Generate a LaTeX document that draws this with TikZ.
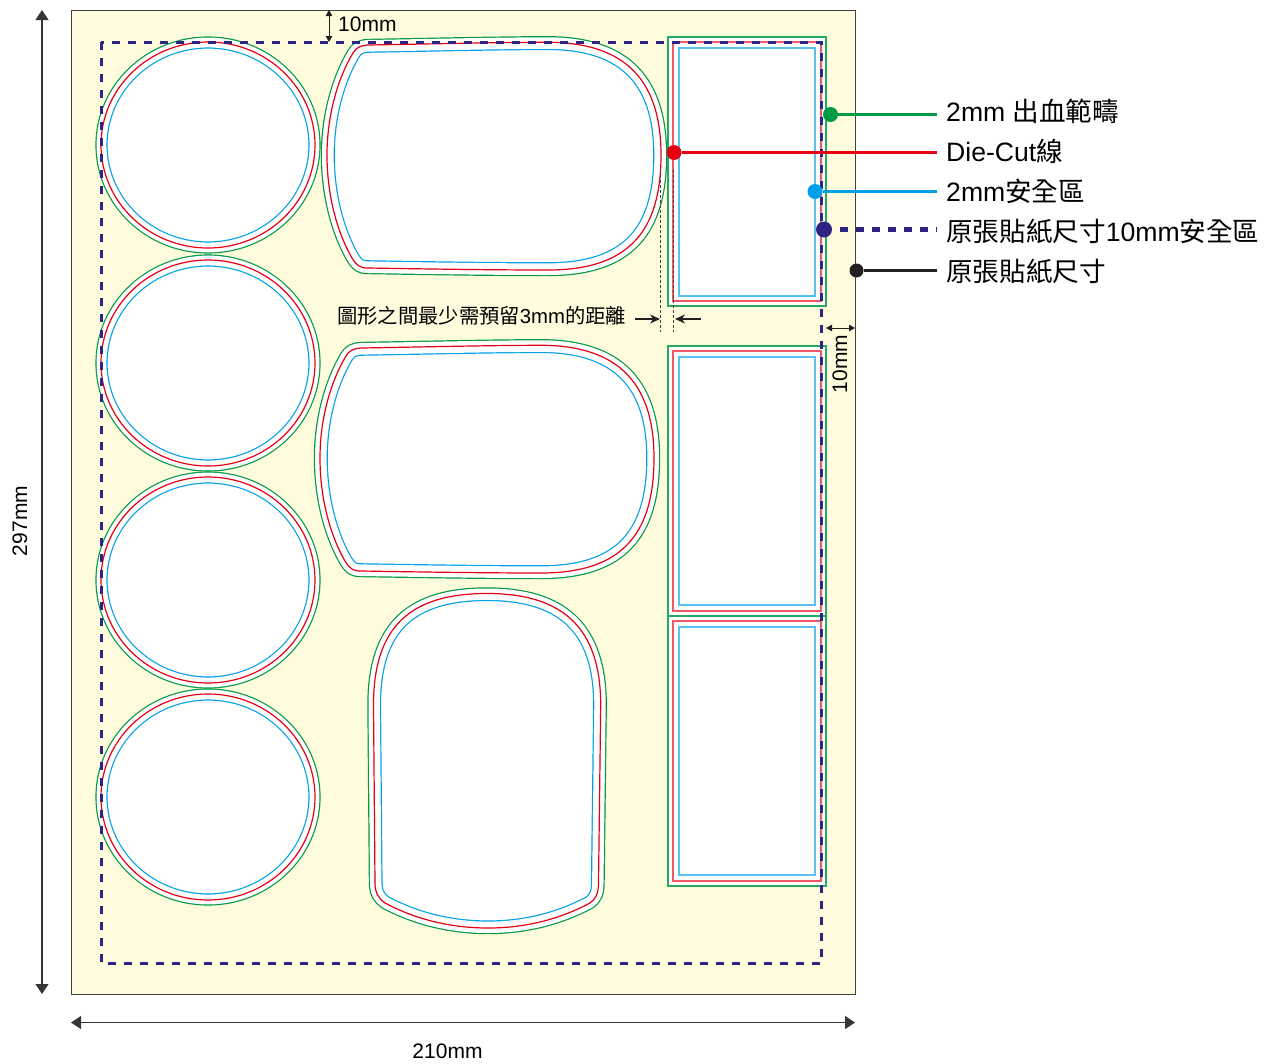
\documentclass[tikz,border=0pt]{standalone}
\usepackage{fontspec}
\setmainfont{Liberation Sans}
\newfontfamily\cjk{Noto Sans CJK TC}
\usetikzlibrary{arrows.meta}
\definecolor{pagebg}{HTML}{FFFBDD}
\definecolor{bleedc}{HTML}{009A44}
\definecolor{cutc}{HTML}{E60012}
\definecolor{safec}{HTML}{00A0E9}
\definecolor{navyc}{HTML}{2E2484}
\definecolor{inkc}{HTML}{231F20}
\tikzset{
  pagebox/.style={draw=inkc!85,line width=1.2pt,fill=pagebg,inner sep=0pt,anchor=north west,minimum width=784pt,minimum height=984pt},
  dashline/.style={draw=navyc,line width=3pt,dash pattern=on 8pt off 8pt},
  bleedrect/.style={draw=bleedc!85,line width=1.1pt,fill=white},
  cutrect/.style={draw=cutc!65,line width=1.1pt},
  saferect/.style={draw=safec!65,line width=1.1pt},
  dot/.style={circle,inner sep=0pt,minimum size=#1},
  lab/.style={anchor=west,inner ysep=0pt,inner xsep=9pt,font=\fontsize{26.6pt}{30pt}\selectfont,text height=#1,text depth=6pt},
  dim/.style={inner sep=0pt,font=\fontsize{21pt}{25pt}\selectfont},
  bigarrow/.style={draw=inkc!90,line width=1.2pt,{Triangle[width=13pt,length=10pt]}-{Triangle[width=13pt,length=10pt]}},
  smallarrow/.style={draw=inkc,line width=0.9pt,{Triangle[width=6.5pt,length=6pt]}-{Triangle[width=6.5pt,length=6pt]}},
  gaparrow/.style={draw=inkc,line width=1.1pt,-{Stealth[width=9pt,length=10pt]}},
  guide/.style={draw=inkc!85,line width=1pt,dash pattern=on 3pt off 2pt},
}
\newcommand{\stickershape}[3]{%
  \draw[bleedc,line width={2*#2+1.2},line join=round] #1;
  \draw[white,line width={2*#2-1.2},line join=round] #1;
  \fill[white] #1;
  \begin{scope}
    \clip #1;
    \draw[safec,line width={2*#3+1.2}] #1;
    \draw[white,line width={2*#3-1.2}] #1;
  \end{scope}
  \draw[cutc,line width=1.2pt] #1;
}
\newcommand{\pathwide}{(327,155)
  .. controls (327,115) and (338,78) .. (353,53)
  .. controls (356,48) and (360,45.5) .. (368,45)
  .. controls (430,44) and (490,42.5) .. (543,42.3)
  .. controls (620,41) and (661,75) .. (661,155)
  .. controls (661,230) and (630,270) .. (548,270)
  .. controls (490,270) and (430,269) .. (368,268)
  .. controls (360,268) and (357,266) .. (352,258)
  .. controls (337,232) and (327,195) .. (327,155) -- cycle}
\newcommand{\pathtall}{(373.5,705)
  .. controls (373.5,625) and (412,593.5) .. (487,593.5)
  .. controls (562,593.5) and (600.7,627) .. (600.7,705)
  -- (598.5,883)
  .. controls (598.5,893) and (596,899) .. (590,903)
  .. controls (560,919) and (526,928) .. (488,928)
  .. controls (450,928) and (415,919) .. (385,903)
  .. controls (379,899) and (375,893) .. (375,883) -- cycle}
\begin{document}
\begin{tikzpicture}[x=1pt,y=-1pt]
\useasboundingbox (0,0) rectangle (1274,1063);
\node[pagebox] (page) at (71,10) {};

% round stickers
\foreach \cy in {145,363,580,797}{
  \stickershape{(208,\cy) ellipse[x radius=107,y radius=103]}{5}{6}
}
% free shapes
\stickershape{\pathwide}{5.6}{7.2}
\begin{scope}[shift={(-7,303)}]
  \stickershape{\pathwide}{5.6}{7.2}
\end{scope}
\stickershape{\pathtall}{5.6}{7}
% rectangles
\draw[bleedrect] (668,37) rectangle (826,306);
\draw[cutrect] (673,42) rectangle (821,301);
\draw[saferect] (679,48) rectangle (815,296);
\draw[bleedrect] (668,346) rectangle (826,616);
\draw[cutrect] (673,351) rectangle (821,611);
\draw[saferect] (679,357) rectangle (815,605);
\draw[bleedrect] (668,616) rectangle (826,886);
\draw[cutrect] (673,621) rectangle (821,881);
\draw[saferect] (679,627) rectangle (815,875);

% 10 mm safe area
\draw[dashline] (101,42) rectangle (821.5,963);

% gap guides
\coordinate (gl1) at (660.8,170);
\coordinate (gl2) at (660.8,332);
\coordinate (gr1) at (673,170);
\coordinate (gr2) at (673,332);
\draw[guide] (gl1) -- (gl2);
\draw[guide] (gr1) -- (gr2);

\node[inner sep=0pt,anchor=base west,font=\fontsize{20.3pt}{24pt}\selectfont] (gaptext) at (337,323) {{\cjk 圖形之間最少需預留}3mm{\cjk 的距離}};
\coordinate (ga1) at (635,319);
\coordinate (ga2) at (660,319);
\coordinate (ga3) at (701,319);
\coordinate (ga4) at (675,319);
\draw[gaparrow] (ga1) -- (ga2);
\draw[gaparrow] (ga3) -- (ga4);

% dimensions
\coordinate (vt) at (42,10);
\coordinate (vb) at (42,994);
\draw[bigarrow] (vt) -- (vb);
\node[dim,rotate=90] (d297) at (20,521) {297mm};
\coordinate (hl) at (71,1022.5);
\coordinate (hr) at (855,1022.5);
\draw[bigarrow] (hl) -- (hr);
\node[dim] (d210) at (447.5,1051) {210mm};
\coordinate (tt) at (329,10);
\coordinate (tb) at (329,42);
\draw[smallarrow] (tt) -- (tb);
\node[dim,anchor=base west] (dtop) at (338,31) {10mm};
\coordinate (rl) at (826,328);
\coordinate (rr) at (855,328);
\draw[smallarrow] (rl) -- (rr);
\node[dim,rotate=90] (dright) at (840,364) {10mm};

% legend
\node[dot=15pt,fill=bleedc] (dgreen) at (830.5,114.5) {};
\node[dot=15pt,fill=cutc] (dred) at (674,152.5) {};
\node[dot=15pt,fill=safec] (dblue) at (815,191.5) {};
\node[dot=16pt,fill=navyc] (dnavy) at (824,229.5) {};
\node[dot=14pt,fill=inkc] (dblack) at (856.5,270.5) {};
\node[lab=20.4pt] (lgreen) at (937,114.5) {2mm {\cjk 出血範疇}};
\node[lab=23pt] (lred) at (937,152.5) {Die-Cut{\cjk 線}};
\node[lab=26.4pt] (lblue) at (937,191.5) {2mm{\cjk 安全區}};
\node[lab=30.4pt] (lnavy) at (937,229.5) {{\cjk 原張貼紙尺寸}10mm{\cjk 安全區}};
\node[lab=28.4pt] (lblack) at (937,270.5) {{\cjk 原張貼紙尺寸}};
\draw[bleedc,line width=2.5pt] (dgreen) -- (lgreen);
\draw[cutc,line width=2.5pt] (dred) -- (lred);
\draw[safec,line width=2.7pt] (dblue) -- (lblue);
\draw[navyc,line width=4.5pt,dash pattern=on 8pt off 8pt,dash phase=-8pt] (dnavy) -- (lnavy);
\draw[inkc,line width=2.5pt] (dblack) -- (lblack);
\end{tikzpicture}
\end{document}
